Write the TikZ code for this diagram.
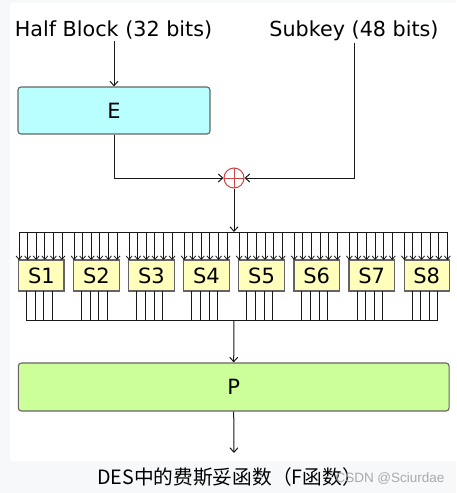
\documentclass[tikz,border=0pt]{standalone}
\usepackage{fontspec}
\setmainfont{DejaVu Sans}
\newfontfamily\cjkfont{Noto Sans CJK SC}
\newfontfamily\wmfont{Liberation Sans}
\usetikzlibrary{arrows.meta,calc}
\definecolor{bgray}{RGB}{246,248,250}
\definecolor{efill}{RGB}{185,255,255}
\definecolor{sfill}{RGB}{255,255,187}
\definecolor{pfill}{RGB}{204,255,153}
\definecolor{boxline}{RGB}{100,100,100}
\definecolor{xorred}{RGB}{200,70,70}
\definecolor{wire}{RGB}{25,25,25}
\definecolor{wmgray}{RGB}{170,170,170}
\tikzset{
  wirestyle/.style={draw=wire,line width=1pt},
  arr/.style={wirestyle,-{Straight Barb[length=4.5pt,width=8pt,line width=1pt]}},
  sarr/.style={wirestyle,-{Straight Barb[length=3.5pt,width=6pt,line width=0.8pt]}},
  bigbox/.style={draw=boxline,line width=1.1pt,rounded corners=3pt,inner sep=0pt,font=\fontsize{21}{24}\selectfont},
  sbox/.style={draw=boxline,line width=1.1pt,fill=sfill,minimum width=45.3pt,minimum height=31pt,inner sep=0pt,font=\fontsize{21}{24}\selectfont},
  lbl/.style={inner sep=2pt,font=\fontsize{20.7}{24}\selectfont},
  xorstyle/.style={circle,draw=xorred,line width=1pt,minimum size=20pt,inner sep=0pt,
    path picture={\draw[xorred,line width=0.8pt] (path picture bounding box.north) -- (path picture bounding box.south)
      (path picture bounding box.west) -- (path picture bounding box.east);}}
}
\begin{document}
\begin{tikzpicture}[x=1pt,y=-1pt]
\useasboundingbox (0,0) rectangle (456,493);
\fill[bgray] (0,0) rectangle (456,493);
\fill[white] (10,3) rectangle (456,461);

% top labels
\node[lbl,anchor=base] (hb) at (113.5,36) {Half Block (32 bits)};
\node[lbl,anchor=base] (sk) at (354,36) {Subkey (48 bits)};

% E box
\node[bigbox,fill=efill,minimum width=192pt,minimum height=47pt] (e) at (114,110.5) {E};
\draw[arr] (e.north |- hb.south) -- (e.north);

% XOR
\node[xorstyle] (x) at (234,178) {};
\draw[arr] (e.south) |- (x.west);
\draw[arr] (sk.south) |- (x.east);

% input bus
\coordinate (busL) at (19,232);
\coordinate (busR) at (448,232);
\coordinate (busM) at (234,232);
\draw[wirestyle] (busL) -- (busR);
\draw[arr] (x.south) -- (busM);

% S boxes
\foreach \k in {1,...,8}{
  \pgfmathsetmacro{\L}{18.7+55.05*(\k-1)}
  \node[sbox] (s\k) at (\L+22.65,275.5) {S\k};
  \foreach \i in {0,...,5}{
    \coordinate (t\k\i) at (\L+0.3+8.6*\i,232);
    \coordinate (h\k\i) at (\L+0.3+8.6*\i,260);
    \draw[sarr] (t\k\i) -- (h\k\i);
  }
  \foreach \j in {0,...,3}{
    \coordinate (o\k\j) at (\L+8+8.6*\j,291);
    \coordinate (b\k\j) at (\L+8+8.6*\j,320.5);
    \draw[wirestyle] (o\k\j) -- (b\k\j);
  }
}
% output bus
\draw[wirestyle] (b10) -- (b83);
\coordinate (bm) at (234,320.5);

% P box
\node[bigbox,fill=pfill,minimum width=430.7pt,minimum height=48pt] (p) at (233.7,387) {P};
\draw[arr] (bm) -- (p.north);
\coordinate (out) at (234,453);
\draw[arr] (p.south) -- (out);

% caption and watermark
\node[anchor=base,inner sep=0pt,font=\cjkfont\fontsize{19.7}{24}\selectfont] (cap) at (229.5,484.5) {DES中的费斯妥函数（F函数）};
\node[anchor=base,inner sep=0pt,text=wmgray,font=\wmfont\fontsize{13.5}{16}\selectfont] (wm) at (390,482) {CSDN @Sciurdae};
\end{tikzpicture}
\end{document}
